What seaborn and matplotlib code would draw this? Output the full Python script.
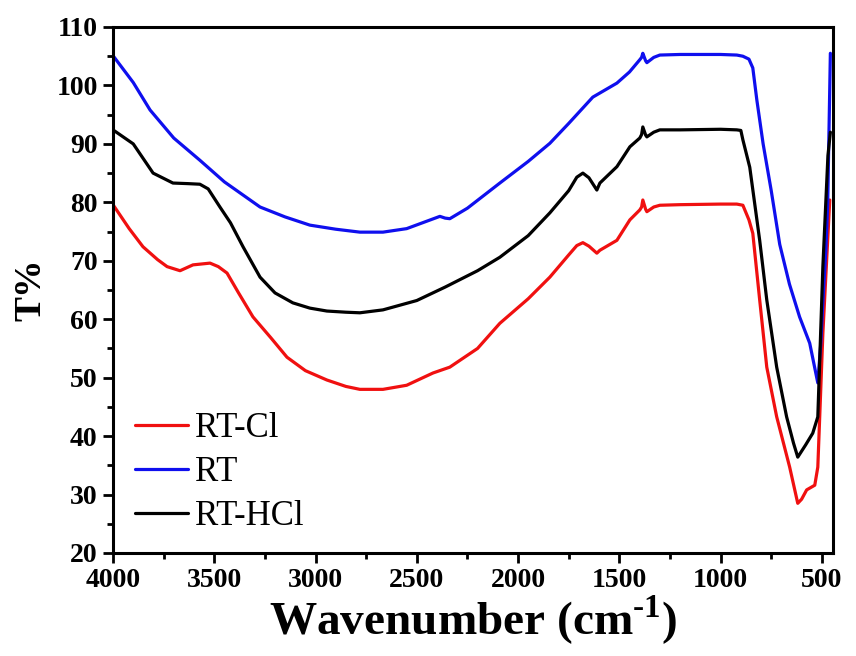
import numpy as np
import pandas as pd
import matplotlib
matplotlib.use("Agg")
import matplotlib.pyplot as plt
from matplotlib.ticker import MultipleLocator
import seaborn as sns

# ---- data ----
rt_x = [4000, 3900, 3817, 3700, 3571, 3450, 3274, 3150, 3028, 2900, 2781, 2667, 2550,
        2386, 2360, 2337, 2250, 2090, 1950, 1843, 1750, 1631, 1512, 1450, 1399, 1390,
        1384, 1370, 1364, 1330, 1300, 1200, 1000, 920, 890, 860, 841, 821, 790, 750,
        708, 660, 610, 560, 520, 505, 495, 480, 471, 458]
rt_y = [105.1, 100.5, 95.8, 91.0, 87.2, 83.5, 79.2, 77.5, 76.1, 75.4, 74.9, 74.9, 75.5,
        77.6, 77.3, 77.2, 79.0, 83.3, 87.0, 90.1, 93.5, 98.0, 100.4, 102.3, 104.4, 104.8,
        105.5, 104.2, 103.9, 104.8, 105.2, 105.3, 105.3, 105.2, 105.0, 104.5, 103.0, 97.5,
        90.0, 82.0, 72.8, 66.0, 60.4, 55.9, 49.1, 56.0, 63.0, 72.0, 80.0, 105.5]

hcl_x = [4000, 3900, 3802, 3704, 3630, 3571, 3530, 3472, 3420, 3358, 3274, 3200, 3112,
         3028, 2944, 2850, 2781, 2667, 2500, 2360, 2337, 2320, 2200, 2090, 1950, 1843,
         1750, 1710, 1680, 1650, 1611, 1596, 1512, 1448, 1399, 1390, 1384, 1370, 1364,
         1330, 1300, 1200, 1000, 920, 900, 890, 856, 807, 772, 723, 674, 640, 619, 580,
         545, 520, 495, 470, 458]
hcl_y = [92.4, 90.0, 85.0, 83.3, 83.2, 83.1, 82.3, 79.2, 76.5, 72.4, 67.2, 64.5, 62.8,
         61.9, 61.4, 61.2, 61.1, 61.6, 63.2, 65.5, 65.9, 66.2, 68.3, 70.6, 74.3, 78.2,
         82.0, 84.3, 85.0, 84.2, 82.1, 83.3, 86.1, 89.5, 91.0, 91.6, 92.9, 91.5, 91.2,
         92.0, 92.4, 92.4, 92.5, 92.4, 92.3, 90.7, 86.0, 73.5, 63.3, 51.8, 43.3, 38.8,
         36.4, 38.5, 40.5, 43.3, 69.0, 88.0, 92.0]

cl_x = [4000, 3920, 3852, 3780, 3733, 3669, 3605, 3521, 3480, 3437, 3380, 3309, 3220,
        3141, 3050, 2944, 2850, 2781, 2667, 2550, 2420, 2337, 2200, 2090, 1950, 1843,
        1750, 1710, 1680, 1650, 1611, 1596, 1512, 1448, 1399, 1390, 1384, 1370, 1364,
        1330, 1300, 1200, 1000, 920, 890, 860, 841, 807, 772, 723, 659, 619, 600, 575,
        535, 520, 495, 461]
cl_y = [79.6, 75.5, 72.4, 70.2, 69.0, 68.3, 69.3, 69.6, 69.0, 67.9, 64.5, 60.4, 56.8,
        53.5, 51.2, 49.6, 48.5, 48.0, 48.0, 48.7, 50.8, 51.8, 55.0, 59.3, 63.5, 67.2,
        71.0, 72.6, 73.1, 72.5, 71.3, 71.8, 73.5, 77.0, 78.7, 79.2, 80.4, 78.8, 78.4,
        79.2, 79.5, 79.6, 79.7, 79.7, 79.5, 77.0, 74.7, 63.3, 51.8, 43.3, 34.7, 28.5,
        29.2, 30.8, 31.6, 34.7, 57.6, 80.4]

labels = ["RT-Cl", "RT", "RT-HCl"]
colors = ["#f01010", "#0f0fee", "#000000"]

df = pd.concat([
    pd.DataFrame({"x": cl_x, "y": cl_y, "sample": labels[0]}),
    pd.DataFrame({"x": rt_x, "y": rt_y, "sample": labels[1]}),
    pd.DataFrame({"x": hcl_x, "y": hcl_y, "sample": labels[2]}),
])

sns.set_style("white")
plt.rcParams["font.family"] = ["Liberation Serif", "DejaVu Serif"]
plt.rcParams["mathtext.fontset"] = "custom"
plt.rcParams["mathtext.rm"] = "Liberation Serif"
plt.rcParams["mathtext.bf"] = "Liberation Serif:bold"
for k in ["text.color", "axes.labelcolor", "xtick.color", "ytick.color", "axes.edgecolor"]:
    plt.rcParams[k] = "black"

fig = plt.figure(figsize=(8.56, 6.56), dpi=100)
ax = fig.add_axes([113 / 856, 1 - 553 / 656, (833 - 113) / 856, (553 - 27) / 656])

sns.lineplot(data=df, x="x", y="y", hue="sample", hue_order=labels,
             palette=dict(zip(labels, colors)), sort=False, estimator=None,
             linewidth=2.3, ax=ax)

ax.set_xlim(4000, 445)
ax.set_ylim(20, 110)
ax.xaxis.set_major_locator(MultipleLocator(500))
ax.xaxis.set_minor_locator(MultipleLocator(250))
ax.yaxis.set_major_locator(MultipleLocator(10))
ax.yaxis.set_minor_locator(MultipleLocator(5))

for s in ax.spines.values():
    s.set_linewidth(2.2)
    s.set_color("black")

ax.tick_params(which="both", direction="out", width=2, colors="black",
               top=False, right=False, bottom=True, left=True)
ax.tick_params(which="major", length=7, pad=4, labelsize=20)
ax.tick_params(which="minor", length=4.5)
for lab in ax.get_xticklabels() + ax.get_yticklabels():
    lab.set_fontweight("bold")

ax.set_xlabel("Wavenumber (cm$^{\\mathbf{\\text{-}1}}$)", fontsize=34, fontweight="bold", labelpad=0)
ax.set_ylabel("T%", fontsize=27, fontweight="bold", labelpad=6)

ax.legend(loc="upper left", bbox_to_anchor=(0.03, 0.268), frameon=False,
          fontsize=25, handlelength=1.55, handletextpad=0.2, labelspacing=0.32,
          borderaxespad=0, borderpad=0, title=None)

fig.savefig("out.png", dpi=100)
